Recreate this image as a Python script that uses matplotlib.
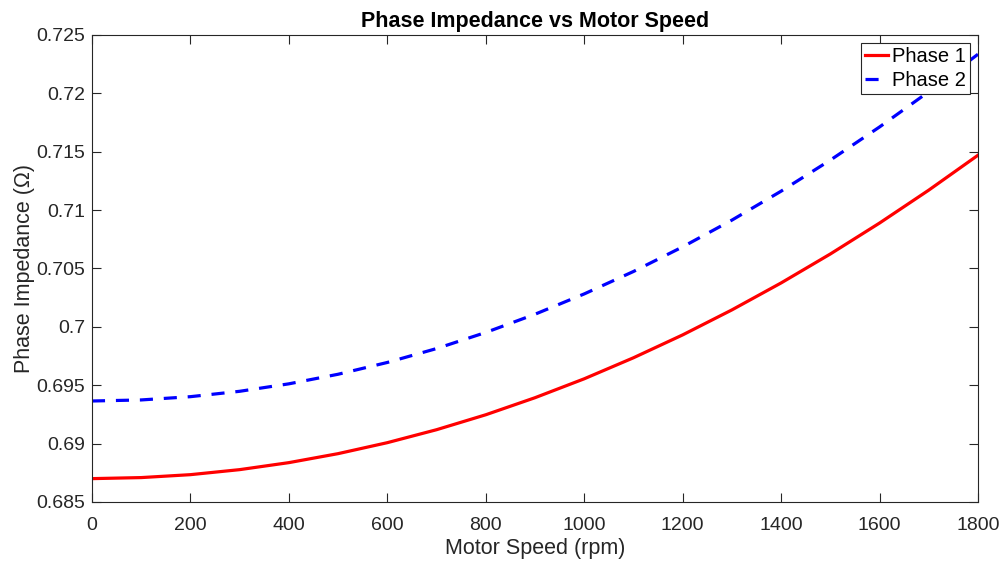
import matplotlib
matplotlib.use("Agg")
import matplotlib.pyplot as plt
from matplotlib.ticker import FuncFormatter

plt.rcParams['font.family'] = ['Liberation Sans', 'DejaVu Sans']

# motor speed samples (rpm)
speed = [0, 100, 200, 300, 400, 500, 600, 700, 800, 900, 1000,
         1100, 1200, 1300, 1400, 1500, 1600, 1700, 1800]

# phase impedance (ohm)
phase1 = [0.68700, 0.68709, 0.68734, 0.68777, 0.68837, 0.68914, 0.69008,
          0.69119, 0.69247, 0.69393, 0.69555, 0.69735, 0.69931, 0.70145,
          0.70376, 0.70624, 0.70889, 0.71171, 0.71470]
phase2 = [0.69365, 0.69374, 0.69402, 0.69448, 0.69512, 0.69594, 0.69695,
          0.69814, 0.69952, 0.70108, 0.70282, 0.70474, 0.70685, 0.70914,
          0.71162, 0.71428, 0.71712, 0.72014, 0.72335]

xticks = [0, 200, 400, 600, 800, 1000, 1200, 1400, 1600, 1800]
yticks = [0.685, 0.69, 0.695, 0.7, 0.705, 0.71, 0.715, 0.72, 0.725]

axis_color = '#262626'

fig = plt.figure(figsize=(10.05, 5.66), dpi=100)
ax = fig.add_axes([0.0915, 0.1131, 0.8816, 0.8251])

ax.plot(speed, phase1, color='red', lw=2.3, label='Phase 1')
ax.plot(speed, phase2, color='blue', lw=2.3, dashes=(4.1, 3.4), label='Phase 2')

ax.set_xlim(0, 1800)
ax.set_ylim(0.685, 0.725)
ax.set_xticks(xticks)
ax.set_yticks(yticks)
ax.yaxis.set_major_formatter(FuncFormatter(lambda v, p: '%g' % round(v, 4)))

ax.tick_params(direction='in', length=6.5, width=0.8, colors=axis_color,
               labelsize=14, top=True, right=True)
ax.tick_params(axis='x', pad=11)
ax.tick_params(axis='y', pad=5)
for s in ax.spines.values():
    s.set_color(axis_color)
    s.set_linewidth(0.8)

ax.set_title('Phase Impedance vs Motor Speed', fontsize=15.5, fontweight='bold', pad=6)
ax.set_xlabel('Motor Speed (rpm)', fontsize=15.5, color=axis_color, labelpad=3)
ax.set_ylabel('Phase Impedance (\u03a9)', fontsize=15.5, color=axis_color, labelpad=1)

leg = ax.legend(loc='upper right', fontsize=14.5, handlelength=1.15, handletextpad=0.2,
                borderpad=0.2, labelspacing=0.25, borderaxespad=0.4,
                fancybox=False, framealpha=1, edgecolor=axis_color)
leg.get_frame().set_linewidth(0.8)

fig.savefig('out.png', dpi=100)
